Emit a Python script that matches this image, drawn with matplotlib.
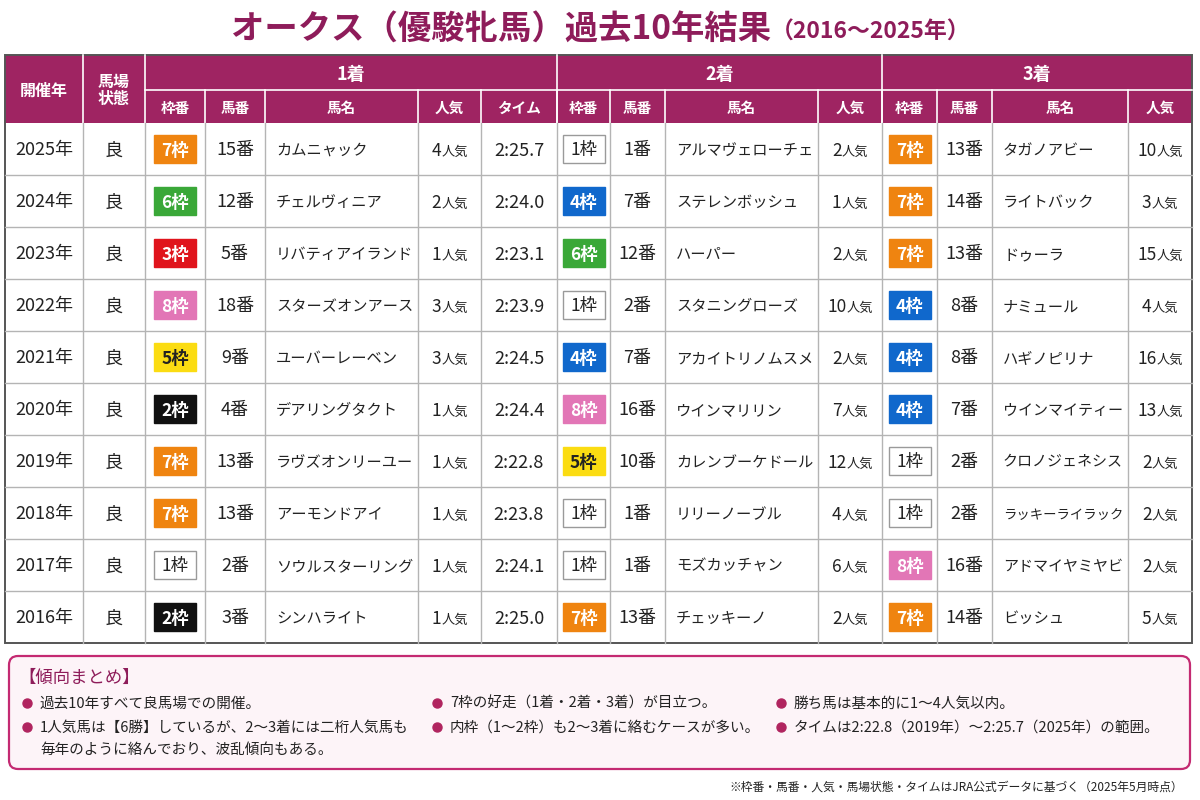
import matplotlib
matplotlib.use("Agg")
import matplotlib.pyplot as plt
from matplotlib.patches import Rectangle, FancyBboxPatch

plt.rcParams['font.family'] = ['Noto Sans CJK JP', 'DejaVu Sans']

# ---- data ----
years = [2025, 2024, 2023, 2022, 2021, 2020, 2019, 2018, 2017, 2016]
baba = ['良', '良', '良', '良', '良', '良', '良', '良', '良', '良']

win_waku = [7, 6, 3, 8, 5, 2, 7, 7, 1, 2]
win_uma = [15, 12, 5, 18, 9, 4, 13, 13, 2, 3]
win_name = ['カムニャック', 'チェルヴィニア', 'リバティアイランド', 'スターズオンアース',
            'ユーバーレーベン', 'デアリングタクト', 'ラヴズオンリーユー', 'アーモンドアイ',
            'ソウルスターリング', 'シンハライト']
win_ninki = [4, 2, 1, 3, 3, 1, 1, 1, 1, 1]
win_time = ['2:25.7', '2:24.0', '2:23.1', '2:23.9', '2:24.5',
            '2:24.4', '2:22.8', '2:23.8', '2:24.1', '2:25.0']

sec_waku = [1, 4, 6, 1, 4, 8, 5, 1, 1, 7]
sec_uma = [1, 7, 12, 2, 7, 16, 10, 1, 1, 13]
sec_name = ['アルマヴェローチェ', 'ステレンボッシュ', 'ハーパー', 'スタニングローズ',
            'アカイトリノムスメ', 'ウインマリリン', 'カレンブーケドール', 'リリーノーブル',
            'モズカッチャン', 'チェッキーノ']
sec_ninki = [2, 1, 2, 10, 2, 7, 12, 4, 6, 2]

thr_waku = [7, 7, 7, 4, 4, 4, 1, 1, 8, 7]
thr_uma = [13, 14, 13, 8, 8, 7, 2, 2, 16, 14]
thr_name = ['タガノアビー', 'ライトバック', 'ドゥーラ', 'ナミュール', 'ハギノピリナ',
            'ウインマイティー', 'クロノジェネシス', 'ラッキーライラック', 'アドマイヤミヤビ',
            'ビッシュ']
thr_ninki = [10, 3, 15, 4, 16, 13, 2, 2, 2, 5]

sub_labels = ['枠番', '馬番', '馬名', '人気', 'タイム',
              '枠番', '馬番', '馬名', '人気',
              '枠番', '馬番', '馬名', '人気']
place_labels = ['1着', '2着', '3着']

summary_col1 = ['過去10年すべて良馬場での開催。',
                '1人気馬は【6勝】しているが、2～3着には二桁人気馬も\n毎年のように絡んでおり、波乱傾向もある。']
summary_col2 = ['7枠の好走（1着・2着・3着）が目立つ。',
                '内枠（1～2枠）も2～3着に絡むケースが多い。']
summary_col3 = ['勝ち馬は基本的に1～4人気以内。',
                'タイムは2:22.8（2019年）～2:25.7（2025年）の範囲。']

# 枠色: (塗り, 文字, 枠線)
waku_style = {
    1: ('#ffffff', '#222222', '#9a9a9a'),
    2: ('#111111', '#ffffff', '#111111'),
    3: ('#e0141c', '#ffffff', '#e0141c'),
    4: ('#1068cc', '#ffffff', '#1068cc'),
    5: ('#fbdc12', '#222222', '#fbdc12'),
    6: ('#3aa838', '#ffffff', '#3aa838'),
    7: ('#ef8410', '#ffffff', '#ef8410'),
    8: ('#e276b6', '#ffffff', '#e276b6'),
}

HEAD = '#9f2462'
TITLE_C = '#8e1c5a'
TXT = '#222222'
GRID = '#b4b4b4'

# ---- layout ----
edges = [5, 83, 145, 205, 265, 418, 481, 557, 610, 665, 818, 882, 937, 992, 1128, 1192]
top = 55
mid = 90
hbot = 123
row_h = 52
dy = 1.5  # 文字の縦位置補正

fig = plt.figure(figsize=(12, 8), dpi=100)
ax = fig.add_axes([0, 0, 1, 1])
ax.set_xlim(0, 1200)
ax.set_ylim(800, 0)
ax.axis('off')
renderer = fig.canvas.get_renderer()

# title
ax.text(771, 30, 'オークス（優駿牝馬）過去10年結果', ha='right', va='center',
        fontsize=24, fontweight='bold', color=TITLE_C)
ax.text(771, 32, '（2016～2025年）', ha='left', va='center',
        fontsize=16.5, fontweight='bold', color=TITLE_C)

# header background
ax.add_patch(Rectangle((edges[0], top), edges[-1] - edges[0], hbot - top,
                       facecolor=HEAD, edgecolor='none'))
for x in [edges[1], edges[2], edges[7], edges[11]]:
    ax.plot([x, x], [top, hbot], color='white', lw=1.2)
ax.plot([edges[2], edges[-1]], [mid, mid], color='white', lw=1.2)
for x in edges[3:-1]:
    ax.plot([x, x], [mid, hbot], color='white', lw=1.2)

ax.text((edges[0] + edges[1]) / 2, (top + hbot) / 2 + dy, '開催年', ha='center', va='center',
        fontsize=11.5, fontweight='bold', color='white')
ax.text((edges[1] + edges[2]) / 2, (top + hbot) / 2 + dy, '馬場\n状態', ha='center', va='center',
        fontsize=11.5, fontweight='bold', color='white', linespacing=1.1)
spans = [(edges[2], edges[7]), (edges[7], edges[11]), (edges[11], edges[15])]
for lab, (a, b) in zip(place_labels, spans):
    ax.text((a + b) / 2, (top + mid) / 2 + dy, lab, ha='center', va='center',
            fontsize=13, fontweight='bold', color='white')
for i, lab in enumerate(sub_labels):
    a, b = edges[i + 2], edges[i + 3]
    ax.text((a + b) / 2, (mid + hbot) / 2 + dy, lab, ha='center', va='center',
            fontsize=10.5, fontweight='bold', color='white')

# body grid
nrows = len(years)
bottom = hbot + nrows * row_h
for r in range(1, nrows):
    y = hbot + r * row_h
    ax.plot([edges[0], edges[-1]], [y, y], color=GRID, lw=1)
for x in edges[1:-1]:
    ax.plot([x, x], [hbot, bottom], color=GRID, lw=1)
ax.add_patch(Rectangle((edges[0], top), edges[-1] - edges[0], bottom - top,
                       facecolor='none', edgecolor='#555555', lw=1.4))


def center_text(c, y, s, size=13):
    ax.text((edges[c] + edges[c + 1]) / 2, y + dy, s, ha='center', va='center',
            fontsize=size, color=TXT)


def name_text(c, y, s):
    pad = 11
    avail = edges[c + 1] - edges[c] - pad - 5
    t = ax.text(edges[c] + pad, y + dy, s, ha='left', va='center', fontsize=11, color=TXT)
    w = t.get_window_extent(renderer).width
    if w > avail:
        t.set_fontsize(11 * avail / w)


def waku_badge(c, y, n):
    fc, tc, ec = waku_style[n]
    cx = (edges[c] + edges[c + 1]) / 2
    w, h = 42, 28
    ax.add_patch(Rectangle((cx - w / 2, y - h / 2), w, h, facecolor=fc,
                           edgecolor=ec, lw=1))
    ax.text(cx, y + dy, f'{n}枠', ha='center', va='center', fontsize=12.5,
            color=tc, fontweight='bold' if n != 1 else 'normal')


def ninki_text(c, y, n):
    cx = (edges[c] + edges[c + 1]) / 2
    t1 = ax.text(0, y + dy, str(n), ha='left', va='center', fontsize=12.5, color=TXT)
    t2 = ax.text(0, y + dy + 1.5, '人気', ha='left', va='center', fontsize=9.5, color=TXT)
    w1 = t1.get_window_extent(renderer).width
    w2 = t2.get_window_extent(renderer).width
    x0 = cx - (w1 + w2) / 2
    t1.set_x(x0)
    t2.set_x(x0 + w1)


for r in range(nrows):
    y = hbot + r * row_h + row_h / 2
    center_text(0, y, f'{years[r]}年')
    center_text(1, y, baba[r])
    waku_badge(2, y, win_waku[r])
    center_text(3, y, f'{win_uma[r]}番')
    name_text(4, y, win_name[r])
    ninki_text(5, y, win_ninki[r])
    center_text(6, y, win_time[r])
    waku_badge(7, y, sec_waku[r])
    center_text(8, y, f'{sec_uma[r]}番')
    name_text(9, y, sec_name[r])
    ninki_text(10, y, sec_ninki[r])
    waku_badge(11, y, thr_waku[r])
    center_text(12, y, f'{thr_uma[r]}番')
    name_text(13, y, thr_name[r])
    ninki_text(14, y, thr_ninki[r])

# summary box
ax.add_patch(FancyBboxPatch((9, 656), 1181, 113, boxstyle='round,pad=0,rounding_size=9',
                            facecolor='#fdf4f8', edgecolor='#c42a72', lw=1.6))
ax.text(18, 678, '【傾向まとめ】', ha='left', va='center', fontsize=12.5, color=TITLE_C)

bullet_rows = [703, 727]
for xdot, items in [(27, summary_col1), (437, summary_col2), (781, summary_col3)]:
    for y, s in zip(bullet_rows, items):
        ax.plot(xdot, y, 'o', color='#b0245f', markersize=6.5)
        for k, line in enumerate(s.split('\n')):
            ax.text(xdot + 13, y + 1 + k * 22, line, ha='left', va='center',
                    fontsize=10.5, color=TXT)

# footnote
ax.text(1183, 787, '※枠番・馬番・人気・馬場状態・タイムはJRA公式データに基づく（2025年5月時点）',
        ha='right', va='center', fontsize=8.5, color=TXT)

fig.savefig('out.png', dpi=100, facecolor='white')
